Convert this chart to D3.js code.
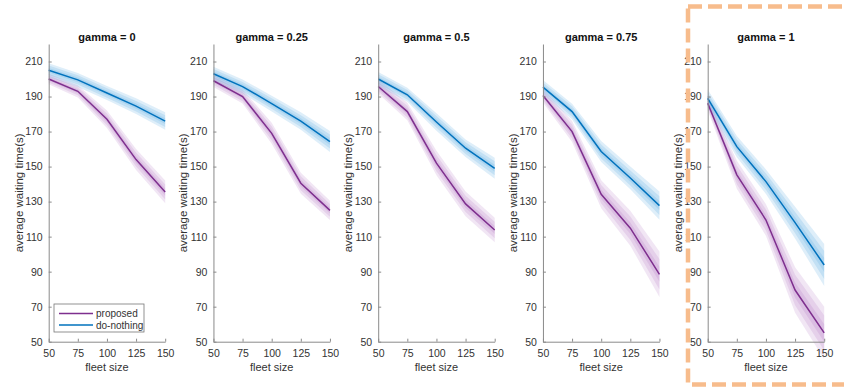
<!DOCTYPE html>
<html>
<head>
<meta charset="utf-8">
<script src="https://cdn.jsdelivr.net/npm/d3@7"></script>
<style>
  html, body { margin: 0; padding: 0; background: #fff; }
  svg { display: block; font-family: "Liberation Sans", Arial, sans-serif; }
</style>
</head>
<body>
<svg id="chart" width="844" height="391"></svg>
<script>
// Fleet sizes on the x axis
const fleetSizes = [50, 75, 100, 125, 150];
// One panel per gamma value
const gammas = ["0", "0.25", "0.5", "0.75", "1"];
const yTicks = [50, 70, 90, 110, 130, 150, 170, 190, 210];
const xTicks = [50, 75, 100, 125, 150];

// Mean average waiting time (s) for each gamma, per fleet size
const proposedMean = [
  [200, 193, 177, 154, 135.5],
  [199, 190, 169, 140.5, 125],
  [195.7, 181.4, 152, 128.7, 113.8],
  [190.6, 170, 134.2, 114.8, 88.5],
  [186.2, 145.3, 119.5, 79.5, 55]
];
const doNothingMean = [
  [205, 199.5, 192, 184.5, 176],
  [203, 195.7, 186, 176, 164.3],
  [200, 191, 175.5, 160.5, 149],
  [195.4, 181.4, 158.6, 143.5, 127.7],
  [189, 161.4, 141.4, 118, 93.8]
];
// Spread (outer half-width of the shaded band), same layout
const proposedSpread = [
  [3, 3.5, 5, 6, 6.5],
  [3.5, 4, 6, 6, 5.5],
  [4, 5, 7, 7, 7],
  [4, 6, 8, 10, 13],
  [4, 8, 9, 13, 15]
];
const doNothingSpread = [
  [4, 4, 4, 4.5, 5],
  [4, 4, 4.5, 5, 6],
  [4, 4, 5, 5, 6],
  [4, 4.5, 6, 6.5, 8],
  [5, 6, 7, 9, 12]
];

const seriesNames = ["proposed", "do-nothing"];
const lineColors = ["#7E2F8E", "#0072BD"];
const bandColors = ["#9d4fb0", "#3a9ad9"];
const bandLevels = [1, 2 / 3, 1 / 3];

const svg = d3.select("#chart");

const firstLeft = 48.7, step = 164.75, plotW = 116.5;
const plotTop = 44, plotBottom = 341.7;

const y = d3.scaleLinear().domain([50, 220]).range([plotBottom, plotTop]);
const axisColor = "#8a8a8a", textColor = "#333";

gammas.forEach((g, p) => {
  const left = firstLeft + p * step;
  const x = d3.scaleLinear().domain([50, 150]).range([left, left + plotW]);
  const panel = svg.append("g");

  const series = [
    { mean: proposedMean[p], spread: proposedSpread[p] },
    { mean: doNothingMean[p], spread: doNothingSpread[p] }
  ];

  // Shaded bands drawn under both lines
  series.forEach((s, si) => {
    bandLevels.forEach(k => {
      const area = d3.area()
        .x((d, i) => x(fleetSizes[i]))
        .y0((d, i) => y(d - k * s.spread[i]))
        .y1((d, i) => y(d + k * s.spread[i]));
      panel.append("path")
        .attr("d", area(s.mean))
        .attr("fill", bandColors[si])
        .attr("fill-opacity", si === 0 ? 0.14 : 0.17)
        .attr("stroke", "none");
    });
  });

  series.forEach((s, si) => {
    const line = d3.line()
      .x((d, i) => x(fleetSizes[i]))
      .y(d => y(d));
    panel.append("path")
      .attr("d", line(s.mean))
      .attr("fill", "none")
      .attr("stroke", lineColors[si])
      .attr("stroke-width", 1.5);
  });

  // Axes with inward ticks
  const yAxis = d3.axisLeft(y).tickValues(yTicks).tickSizeInner(-3).tickSizeOuter(0).tickPadding(6);
  const gy = panel.append("g").attr("transform", `translate(${left},0)`).call(yAxis);
  const xAxis = d3.axisBottom(x).tickValues(xTicks).tickSizeInner(-3).tickSizeOuter(0).tickPadding(6);
  const gx = panel.append("g").attr("transform", `translate(0,${plotBottom})`).call(xAxis);

  [gx, gy].forEach(ga => {
    ga.select(".domain").attr("stroke", axisColor).attr("stroke-width", 1);
    ga.selectAll(".tick line").attr("stroke", axisColor);
    ga.selectAll(".tick text").attr("fill", textColor).attr("font-size", 10.5)
      .attr("font-family", "Liberation Sans, Arial, sans-serif");
  });
  gx.selectAll(".tick text").attr("dy", "0.9em");

  panel.append("text")
    .attr("x", left + plotW / 2).attr("y", 41)
    .attr("text-anchor", "middle")
    .attr("font-size", 11).attr("font-weight", "bold").attr("fill", "#111")
    .text(`gamma = ${g}`);

  panel.append("text")
    .attr("x", left + plotW / 2).attr("y", 371)
    .attr("text-anchor", "middle")
    .attr("font-size", 11).attr("fill", textColor)
    .text("fleet size");

  panel.append("text")
    .attr("transform", `translate(${left - 26},${(plotTop + plotBottom) / 2}) rotate(-90)`)
    .attr("text-anchor", "middle")
    .attr("font-size", 11.5).attr("fill", textColor)
    .text("average waiting time(s)");

  // Legend only in the first panel
  if (p === 0) {
    const lg = panel.append("g").attr("transform", "translate(54,304)");
    lg.append("rect").attr("width", 90).attr("height", 28)
      .attr("fill", "#fff").attr("stroke", "#777").attr("stroke-width", 0.8);
    seriesNames.forEach((name, i) => {
      const yy = 9.5 + i * 11.5;
      lg.append("line").attr("x1", 5).attr("x2", 39).attr("y1", yy).attr("y2", yy)
        .attr("stroke", lineColors[i]).attr("stroke-width", 1.5);
      lg.append("text").attr("x", 42).attr("y", yy).attr("dy", "0.35em")
        .attr("font-size", 10).attr("fill", textColor).text(name);
    });
  }
});

// Dashed highlight frame around the last panel
svg.append("rect")
  .attr("x", 688).attr("y", 6.5).attr("width", 170).attr("height", 378)
  .attr("fill", "none")
  .attr("stroke", "#F7BC8C")
  .attr("stroke-width", 4.5)
  .attr("stroke-dasharray", "14,6");
</script>
</body>
</html>
